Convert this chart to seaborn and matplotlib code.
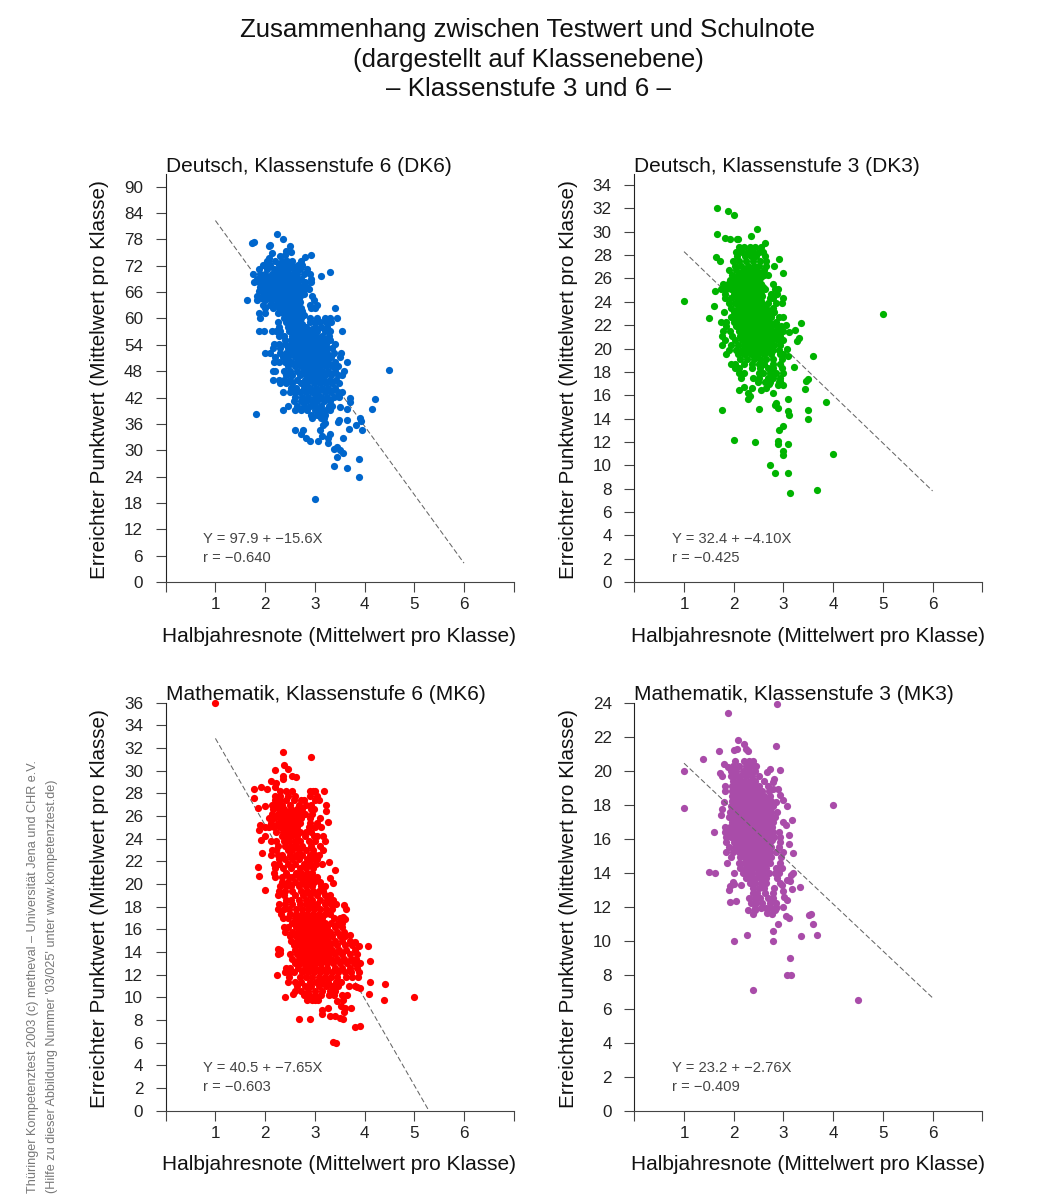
import matplotlib
matplotlib.use('Agg')
import matplotlib.pyplot as plt
import pandas as pd
import seaborn as sns

# Figure size in pixels
W, H = 1041, 1196

title_lines = ['Zusammenhang zwischen Testwert und Schulnote',
               '(dargestellt auf Klassenebene)',
               '\u2013 Klassenstufe 3 und 6 \u2013']
credit_lines = ['Th\u00fcringer Kompetenztest 2003 (c) metheval \u2013 Universit\u00e4t Jena und CHR e.V.',
                "(Hilfe zu dieser Abbildung Nummer '03/025' unter www.kompetenztest.de)"]
x_label = 'Halbjahresnote (Mittelwert pro Klasse)'
y_label = 'Erreichter Punktwert (Mittelwert pro Klasse)'

x_ticks = [0, 1, 2, 3, 4, 5, 6, 7]
x_tick_labels = ['', '1', '2', '3', '4', '5', '6', '']

# Deutsch 6: single points, then rows of (punktwert, [noten])
dk6_single = [(4.5, 48.3), (4.22, 41.7), (4.14, 39.3), (3.71, 42.0), (3.71, 40.9), (3.65, 39.5), (3.5, 39.8),
              (3.64, 36.9), (3.48, 37.0), (3.46, 36.5), (3.9, 37.3), (3.92, 36.7), (3.82, 35.8), (3.94, 34.5),
              (3.69, 34.8), (3.56, 32.7), (3.3, 33.7), (3.15, 33.3), (3.26, 32.7), (3.27, 31.7), (3.06, 32.1),
              (2.91, 32.1), (2.83, 32.9), (2.73, 33.7), (2.76, 34.5), (2.6, 34.7), (3.11, 34.6), (3.16, 35.8),
              (3.21, 36.1), (3.39, 30.2), (3.45, 30.7), (3.51, 30.0), (3.56, 29.3), (3.45, 28.4), (3.88, 28.1),
              (3.38, 26.3), (3.64, 26.0), (3.89, 23.8), (3.0, 19.0), (1.82, 38.2), (1.64, 64.1), (1.73, 77.2),
              (1.78, 77.4), (2.23, 79.2), (2.35, 78.2), (2.09, 76.8), (2.07, 76.4), (2.5, 76.5), (2.52, 75.2),
              (2.42, 75.4), (2.14, 75.0), (2.8, 74.0), (2.92, 74.5), (2.3, 74.3), (2.39, 74.5), (2.07, 73.7),
              (2.03, 73.2), (3.3, 70.5), (3.12, 69.7)]
dk6_rows = [(73.2, [2.05, 2.2, 2.33, 2.43, 2.55, 2.72]), (72.1, [1.95, 2.1, 2.28, 2.38, 2.47, 2.55, 2.66, 2.74]),
            (71.3, [1.87, 2.03, 2.17, 2.27, 2.37, 2.47, 2.58, 2.7, 2.85]),
            (70.2, [1.76, 1.9, 2.0, 2.13, 2.24, 2.34, 2.44, 2.55, 2.65, 2.78, 2.9]),
            (69.1, [1.83, 1.95, 2.07, 2.18, 2.3, 2.41, 2.5, 2.62, 2.73, 2.92]),
            (68.2, [1.78, 1.88, 2.0, 2.12, 2.23, 2.33, 2.45, 2.55, 2.66, 2.8, 2.93]),
            (67.1, [1.9, 2.02, 2.15, 2.26, 2.37, 2.48, 2.6, 2.72, 2.84]),
            (66.2, [1.88, 1.98, 2.1, 2.2, 2.32, 2.43, 2.53, 2.65, 2.76]),
            (65.1, [1.83, 1.95, 2.05, 2.17, 2.28, 2.38, 2.5, 2.6, 2.7, 2.95]),
            (64.2, [1.83, 2.0, 2.12, 2.24, 2.35, 2.46, 2.57, 2.68, 2.98]),
            (63.1, [1.95, 2.1, 2.2, 2.3, 2.42, 2.52, 2.63, 2.9, 3.05]),
            (62.3, [2.0, 2.16, 2.28, 2.38, 2.5, 2.6, 2.72, 2.92, 3.0, 3.4]),
            (61.2, [1.88, 2.0, 2.25, 2.35, 2.47, 2.57, 2.68]),
            (60.1, [1.9, 2.37, 2.5, 2.6, 2.72, 2.9, 3.05, 3.2, 3.3, 3.45]),
            (59.2, [2.25, 2.42, 2.53, 2.65, 2.9, 3.0, 3.1, 3.22, 3.32]),
            (58.1, [2.28, 2.45, 2.58, 2.7, 2.82, 3.0, 3.12, 3.25]),
            (57.2, [1.88, 1.97, 2.13, 2.22, 2.3, 2.48, 2.62, 2.75, 2.87, 3.05, 3.2, 3.3, 3.55]),
            (56.1, [2.27, 2.38, 2.55, 2.66, 2.78, 2.9, 3.02, 3.15, 3.28]),
            (55.2, [2.4, 2.52, 2.63, 2.74, 2.85, 2.96, 3.07, 3.2, 3.3]),
            (54.1, [2.18, 2.27, 2.4, 2.53, 2.65, 2.76, 2.87, 2.98, 3.1, 3.22, 3.4]),
            (53.2, [2.15, 2.3, 2.45, 2.56, 2.68, 2.8, 2.9, 3.02, 3.14, 3.25, 3.35]),
            (52.1, [2.0, 2.1, 2.3, 2.42, 2.53, 2.65, 2.76, 2.88, 3.0, 3.12, 3.25, 3.38, 3.53]),
            (51.2, [2.2, 2.35, 2.47, 2.6, 2.72, 2.84, 2.96, 3.08, 3.2, 3.32, 3.5]),
            (50.1, [2.17, 2.28, 2.4, 2.52, 2.65, 2.77, 2.9, 3.02, 3.14, 3.27, 3.4, 3.65]),
            (49.2, [2.45, 2.6, 2.72, 2.85, 2.97, 3.1, 3.22, 3.35, 3.47]),
            (48.1, [2.15, 2.2, 2.38, 2.5, 2.65, 2.78, 2.9, 3.02, 3.15, 3.27, 3.4, 3.58]),
            (47.2, [2.42, 2.55, 2.7, 2.83, 2.96, 3.08, 3.2, 3.33, 3.47, 3.55]),
            (46.1, [2.15, 2.28, 2.38, 2.5, 2.65, 2.8, 2.92, 3.05, 3.18, 3.3, 3.42]),
            (45.2, [2.3, 2.42, 2.55, 2.72, 2.85, 2.98, 3.1, 3.22, 3.35, 3.48]),
            (44.1, [2.52, 2.62, 2.78, 2.9, 3.02, 3.15, 3.27, 3.4]),
            (43.2, [2.35, 2.5, 2.6, 2.7, 2.82, 2.95, 3.07, 3.2, 3.32, 3.47, 3.55]),
            (42.1, [2.6, 2.75, 2.87, 3.0, 3.12, 3.25, 3.38, 3.48]),
            (41.2, [2.58, 2.72, 2.82, 2.94, 3.05, 3.18, 3.3]),
            (40.1, [2.45, 2.65, 2.78, 2.9, 3.0, 3.12, 3.28, 3.35]),
            (39.2, [2.35, 2.6, 2.72, 2.85, 3.0, 3.1, 3.22, 3.3]),
            (38.1, [2.92, 3.05, 3.15, 3.2]), (37.3, [2.95, 3.12, 3.18])]
dk6_dense = [(69.6, [2.0, 2.12, 2.25, 2.37, 2.49, 2.6]), (68.7, [1.93, 2.06, 2.18, 2.28, 2.4, 2.52, 2.62]),
             (67.6, [1.97, 2.09, 2.2, 2.32, 2.43, 2.54, 2.66, 2.78]),
             (66.7, [1.93, 2.05, 2.16, 2.27, 2.38, 2.49, 2.6, 2.72, 2.88]),
             (65.6, [2.1, 2.22, 2.33, 2.45, 2.55, 2.66, 2.78]), (64.7, [1.92, 2.07, 2.18, 2.3, 2.42, 2.52, 2.62]),
             (63.7, [2.25, 2.36, 2.47, 2.58, 2.7]), (62.7, [2.34, 2.45, 2.55, 2.67]),
             (61.7, [2.42, 2.53, 2.63, 2.75]), (60.7, [2.44, 2.55, 2.66, 2.78]),
             (59.7, [2.47, 2.58, 2.7]), (58.7, [2.5, 2.62, 2.75]),
             (57.7, [2.55, 2.68, 2.8, 2.95]), (56.7, [2.6, 2.72, 2.84, 2.96]),
             (55.7, [2.58, 2.7, 2.8, 2.9, 3.02, 3.13]), (54.7, [2.59, 2.7, 2.81, 2.92, 3.03, 3.15]),
             (53.7, [2.62, 2.73, 2.84, 2.95, 3.07, 3.18]), (52.7, [2.6, 2.7, 2.82, 2.93, 3.05, 3.17]),
             (51.7, [2.64, 2.75, 2.87, 2.98, 3.1, 3.22]), (50.7, [2.68, 2.8, 2.92, 3.03, 3.16]),
             (49.7, [2.65, 2.78, 2.9, 3.02, 3.16]), (48.7, [2.8, 2.92, 3.05]),
             (47.7, [2.75, 2.88, 3.0]), (46.7, [2.86, 3.0, 3.12])]

# Deutsch 3
dk3_single = [(1.0, 24.1), (5.0, 23.0), (1.5, 22.6), (1.61, 23.6), (1.62, 24.9), (1.67, 32.05), (1.88, 31.75),
              (2.0, 31.4), (1.67, 29.8), (1.82, 29.45), (1.93, 29.4), (2.06, 29.35), (2.09, 29.4), (2.35, 29.6),
              (2.46, 30.2), (2.62, 29.05), (1.65, 27.85), (1.72, 27.5), (2.92, 27.65), (2.82, 27.05), (3.0, 26.45),
              (3.36, 22.2), (3.23, 21.6), (3.06, 22.05), (3.11, 21.45), (3.32, 20.9), (3.27, 20.65), (3.07, 20.0),
              (3.1, 19.4), (3.59, 19.4), (3.22, 18.4), (3.5, 17.4), (3.45, 17.25), (3.43, 16.5), (3.09, 15.65),
              (3.86, 15.45), (3.5, 14.7), (3.5, 14.0), (3.1, 14.65), (3.11, 14.3), (2.5, 14.8), (1.77, 14.7),
              (2.83, 15.2), (2.86, 15.3), (2.9, 14.9), (3.0, 13.4), (2.92, 13.05), (2.0, 12.2), (2.43, 11.95),
              (2.9, 12.1), (2.89, 11.85), (3.09, 11.8), (3.0, 11.2), (3.0, 10.85), (4.0, 11.0), (2.73, 10.05),
              (2.84, 9.33), (3.09, 9.3), (3.14, 7.6), (3.67, 7.85), (2.1, 16.45), (2.2, 16.7), (2.36, 16.6),
              (2.54, 16.45), (2.28, 16.15), (2.33, 15.9), (2.28, 15.7), (2.8, 16.2), (2.9, 16.85), (3.0, 16.9),
              (2.93, 17.25), (2.64, 16.65), (2.71, 17.0)]
dk3_rows = [(28.7, [2.1, 2.2, 2.32, 2.42, 2.55]), (28.3, [2.05, 2.17, 2.28, 2.38, 2.5, 2.58]),
            (27.9, [2.07, 2.22, 2.35, 2.45, 2.63]), (27.5, [1.98, 2.1, 2.25, 2.38, 2.52, 2.65]),
            (27.1, [2.02, 2.15, 2.28, 2.4, 2.5, 2.64]), (26.7, [1.9, 2.05, 2.2, 2.33, 2.45, 2.6]),
            (26.3, [1.97, 2.1, 2.22, 2.35, 2.47, 2.6, 2.68]), (25.9, [1.92, 2.02, 2.13, 2.26, 2.38, 2.5]),
            (25.5, [1.78, 1.88, 2.0, 2.1, 2.2, 2.3, 2.42, 2.55, 2.8]),
            (25.1, [1.75, 1.85, 1.95, 2.06, 2.17, 2.28, 2.4, 2.52, 2.62, 2.83, 2.9]),
            (24.7, [1.82, 2.0, 2.1, 2.2, 2.32, 2.43, 2.55, 2.75, 2.88]),
            (24.3, [1.82, 1.95, 2.07, 2.18, 2.28, 2.4, 2.5, 2.72, 2.8, 3.0]),
            (23.9, [1.9, 2.02, 2.13, 2.25, 2.36, 2.47, 2.68, 2.85, 2.97]),
            (23.5, [1.95, 2.08, 2.2, 2.3, 2.42, 2.55, 2.65, 2.78]),
            (23.1, [1.8, 2.0, 2.12, 2.22, 2.33, 2.45, 2.58, 2.7, 2.82]),
            (22.7, [1.95, 2.07, 2.18, 2.3, 2.4, 2.52, 2.65, 2.75, 2.92, 3.0]),
            (22.3, [1.75, 1.85, 2.0, 2.12, 2.23, 2.35, 2.47, 2.58, 2.7, 2.85]),
            (21.9, [1.85, 2.05, 2.17, 2.28, 2.4, 2.52, 2.63, 2.75, 2.88, 2.95]),
            (21.5, [1.78, 1.92, 2.1, 2.2, 2.33, 2.45, 2.56, 2.68, 2.8, 2.9, 3.0]),
            (21.1, [1.77, 1.97, 2.13, 2.25, 2.37, 2.48, 2.6, 2.72, 2.83, 2.93]),
            (20.7, [1.83, 2.02, 2.17, 2.28, 2.4, 2.52, 2.65, 2.77, 2.9, 3.0]),
            (20.3, [1.77, 1.95, 2.08, 2.2, 2.33, 2.45, 2.57, 2.7, 2.82, 2.94]),
            (19.9, [1.9, 2.05, 2.17, 2.3, 2.42, 2.55, 2.68, 2.8, 2.92]),
            (19.5, [1.85, 2.08, 2.2, 2.34, 2.46, 2.6, 2.75, 2.93, 3.0]),
            (19.1, [2.12, 2.27, 2.4, 2.53, 2.65, 2.78, 2.97]),
            (18.7, [1.95, 2.03, 2.2, 2.36, 2.5, 2.6, 2.78, 2.93]),
            (18.3, [2.02, 2.1, 2.36, 2.53, 2.68, 2.8, 2.98]), (17.9, [2.1, 2.2, 2.5, 2.58, 2.72, 2.85, 3.0]),
            (17.5, [2.14, 2.38, 2.5, 2.68, 2.8, 2.94]), (17.1, [2.48, 2.62, 2.72, 2.92])]
dk3_dense = [(26.5, [2.12, 2.27, 2.4, 2.52]), (26.1, [2.05, 2.17, 2.3, 2.43, 2.55]),
             (25.7, [1.95, 2.07, 2.16, 2.27, 2.36, 2.48]), (25.3, [2.02, 2.12, 2.23, 2.34, 2.46, 2.58]),
             (24.9, [2.05, 2.15, 2.26, 2.37, 2.48]), (24.5, [2.05, 2.15, 2.24, 2.35, 2.46, 2.57]),
             (24.1, [2.08, 2.2, 2.31, 2.42, 2.54]), (23.7, [2.12, 2.25, 2.36, 2.48, 2.6]),
             (23.3, [2.15, 2.27, 2.38, 2.5, 2.62]), (22.9, [2.17, 2.28, 2.39, 2.51, 2.63, 2.75]),
             (22.5, [2.13, 2.25, 2.36, 2.46, 2.56, 2.68]), (22.1, [2.22, 2.33, 2.45, 2.55, 2.66, 2.78]),
             (21.7, [2.25, 2.37, 2.48, 2.6, 2.7]), (21.3, [2.18, 2.3, 2.42, 2.52, 2.64, 2.76]),
             (20.9, [2.22, 2.33, 2.45, 2.57, 2.7]), (20.5, [2.25, 2.37, 2.48, 2.6, 2.73]),
             (20.1, [2.22, 2.36, 2.48, 2.62]), (19.7, [2.27, 2.4, 2.52, 2.65])]

# Mathematik 6
mk6_single = [(1.0, 36.0), (2.35, 31.65), (2.93, 31.2), (2.38, 30.5), (2.47, 30.15), (2.19, 30.05), (2.36, 29.5),
              (2.36, 29.25), (2.54, 29.5), (2.62, 29.45), (2.11, 29.05), (2.21, 28.9), (2.2, 28.6), (1.78, 28.4),
              (1.92, 28.55), (2.04, 28.4), (3.18, 28.25), (1.77, 27.55), (1.85, 26.7), (2.0, 26.9), (3.23, 27.0),
              (3.22, 26.45), (3.27, 25.45), (1.9, 25.25), (1.88, 24.75), (2.0, 25.05), (2.0, 24.25), (1.92, 23.85),
              (1.93, 22.7), (1.86, 21.5), (1.88, 20.75), (2.0, 19.5), (3.29, 21.95), (3.41, 21.2), (3.31, 20.5),
              (3.36, 20.1), (2.24, 11.95), (2.4, 10.05), (2.56, 10.3), (2.69, 8.1), (2.91, 8.1), (3.36, 6.1),
              (3.43, 6.0), (3.8, 7.4), (3.9, 7.45), (5.0, 10.0), (4.41, 11.2), (4.4, 9.8), (4.09, 10.3), (4.11, 11.4),
              (4.11, 13.25), (4.06, 14.55), (3.89, 14.5), (3.81, 14.9), (3.71, 15.5), (3.61, 15.45), (3.59, 18.15),
              (3.62, 17.8), (3.56, 17.1), (3.6, 16.9), (3.91, 10.8), (3.85, 10.95), (3.72, 9.05), (3.61, 9.1),
              (3.58, 8.75), (3.5, 8.15), (3.56, 8.1), (3.41, 8.35), (3.31, 8.35), (3.15, 8.9), (3.15, 8.55),
              (3.27, 9.05), (3.44, 9.7), (3.56, 9.75), (3.52, 9.25), (2.25, 14.3), (2.3, 13.9)]
mk6_rows = [(28.2, [2.3, 2.42, 2.55, 2.9, 2.97, 3.0]), (27.8, [2.2, 2.3, 2.47, 2.6, 2.9, 3.05]),
            (27.4, [2.2, 2.3, 2.42, 2.58, 2.72, 2.78, 3.0, 3.08]), (27.0, [2.13, 2.23, 2.33, 2.5, 2.68, 2.82, 2.92]),
            (26.6, [2.15, 2.27, 2.38, 2.52, 2.64, 2.75, 2.93, 2.98]),
            (26.2, [2.13, 2.25, 2.35, 2.47, 2.58, 2.68, 2.8, 2.95]),
            (25.8, [2.08, 2.17, 2.3, 2.42, 2.52, 2.62, 2.73, 2.9, 3.1]),
            (25.4, [2.12, 2.25, 2.37, 2.48, 2.58, 2.7, 2.9, 3.05]),
            (25.0, [2.08, 2.17, 2.3, 2.42, 2.52, 2.65, 2.88, 3.0, 3.12]),
            (24.6, [2.22, 2.35, 2.47, 2.58, 2.7, 2.82, 2.93]),
            (24.2, [2.33, 2.42, 2.53, 2.65, 2.8, 2.98, 3.05, 3.17]),
            (23.8, [2.12, 2.22, 2.37, 2.48, 2.6, 2.7, 2.88, 3.0, 3.2]),
            (23.4, [2.25, 2.4, 2.52, 2.62, 2.75, 2.92, 3.1]),
            (23.0, [2.13, 2.22, 2.45, 2.55, 2.68, 2.83, 2.97, 3.17]),
            (22.6, [2.12, 2.25, 2.33, 2.5, 2.62, 2.75, 2.9, 3.0, 3.08]),
            (22.2, [2.27, 2.4, 2.55, 2.68, 2.85, 2.95, 3.05]),
            (21.8, [2.17, 2.28, 2.47, 2.6, 2.78, 2.9, 3.02, 3.15]), (21.4, [2.2, 2.35, 2.52, 2.7, 2.82, 2.97]),
            (21.0, [2.18, 2.42, 2.62, 2.73, 2.85, 2.95]), (20.6, [2.2, 2.33, 2.48, 2.55, 2.68, 2.8, 2.92, 3.05]),
            (20.2, [2.33, 2.47, 2.6, 2.75, 2.87, 2.98, 3.1]),
            (19.8, [2.3, 2.42, 2.53, 2.68, 2.82, 2.94, 3.12, 3.2]),
            (19.4, [2.28, 2.4, 2.55, 2.72, 2.85, 2.97, 3.08, 3.17]),
            (19.0, [2.25, 2.37, 2.6, 2.77, 2.9, 3.05, 3.2, 3.3]),
            (18.6, [2.42, 2.52, 2.68, 2.82, 2.95, 3.1, 3.25, 3.37]),
            (18.2, [2.27, 2.4, 2.55, 2.7, 2.82, 2.93, 3.05, 3.2, 3.32, 3.42]),
            (17.8, [2.25, 2.38, 2.48, 2.62, 2.75, 2.87, 2.98, 3.1, 3.22, 3.35]),
            (17.4, [2.32, 2.5, 2.62, 2.75, 2.85, 2.97, 3.08, 3.2, 3.3]),
            (17.0, [2.35, 2.47, 2.6, 2.72, 2.82, 2.92, 3.03, 3.15, 3.38, 3.5]),
            (16.6, [2.55, 2.67, 2.78, 2.88, 2.98, 3.08, 3.2, 3.33, 3.47, 3.55]),
            (16.2, [2.37, 2.47, 2.62, 2.72, 2.82, 2.92, 3.02, 3.12, 3.25, 3.4, 3.55]),
            (15.8, [2.4, 2.55, 2.67, 2.77, 2.87, 2.97, 3.07, 3.17, 3.3, 3.45, 3.58]),
            (15.4, [2.5, 2.62, 2.72, 2.82, 2.92, 3.02, 3.12, 3.22, 3.35, 3.5]),
            (15.0, [2.52, 2.65, 2.75, 2.85, 2.95, 3.05, 3.15, 3.27, 3.4, 3.55, 3.7]),
            (14.6, [2.58, 2.68, 2.78, 2.88, 2.98, 3.08, 3.18, 3.3, 3.45, 3.6, 3.75]),
            (14.2, [2.3, 2.6, 2.72, 2.82, 2.92, 3.02, 3.12, 3.22, 3.35, 3.48, 3.62, 3.8]),
            (13.8, [2.25, 2.5, 2.65, 2.75, 2.85, 2.95, 3.05, 3.15, 3.27, 3.4, 3.55, 3.7, 3.85]),
            (13.4, [2.55, 2.68, 2.78, 2.88, 2.98, 3.08, 3.2, 3.32, 3.45, 3.58, 3.72, 3.83]),
            (13.0, [2.6, 2.72, 2.83, 2.93, 3.03, 3.13, 3.25, 3.37, 3.5, 3.65, 3.78, 3.9]),
            (12.6, [2.42, 2.5, 2.67, 2.8, 2.9, 3.0, 3.12, 3.25, 3.4, 3.55, 3.7, 3.85]),
            (12.2, [2.4, 2.5, 2.58, 2.75, 2.87, 2.98, 3.1, 3.22, 3.35, 3.47, 3.6, 3.72, 3.88]),
            (11.8, [2.48, 2.7, 2.83, 2.95, 3.08, 3.2, 3.33, 3.45, 3.62, 3.75, 3.87]),
            (11.4, [2.45, 2.6, 2.72, 2.9, 3.02, 3.15, 3.27, 3.42, 3.52]),
            (11.0, [2.65, 2.8, 2.92, 3.08, 3.22, 3.35, 3.47, 3.68, 3.8]),
            (10.6, [2.6, 2.72, 2.87, 3.0, 3.15, 3.3, 3.4]),
            (10.2, [2.78, 2.88, 3.0, 3.12, 3.28, 3.38, 3.55, 3.65]), (9.8, [2.85, 2.95, 3.0, 3.07])]
mk6_dense = [(26.4, [2.4, 2.5, 2.6]), (25.6, [2.35, 2.47, 2.58]), (25.2, [2.3, 2.43, 2.55]), (24.4, [2.42, 2.52, 2.62]),
             (17.2, [2.78, 2.88, 3.0, 3.1]), (16.8, [2.73, 2.83, 2.93, 3.03, 3.13]),
             (16.4, [2.76, 2.86, 2.96, 3.06, 3.17]), (16.0, [2.72, 2.82, 2.92, 3.02, 3.12, 3.22]),
             (15.6, [2.67, 2.77, 2.87, 2.97, 3.07, 3.17, 3.28]), (15.2, [2.7, 2.8, 2.9, 3.0, 3.1, 3.2]),
             (14.8, [2.73, 2.83, 2.93, 3.03, 3.13, 3.24]), (14.4, [2.76, 2.86, 2.96, 3.06, 3.17, 3.28]),
             (14.0, [2.8, 2.9, 3.0, 3.1, 3.2, 3.32]), (13.6, [2.83, 2.93, 3.03, 3.13, 3.25]),
             (13.2, [2.87, 2.97, 3.07, 3.18])]

# Mathematik 3
mk3_single = [(1.0, 20.0), (1.0, 17.8), (1.39, 20.7), (1.88, 23.4), (2.88, 23.9), (1.71, 21.15), (2.08, 21.8),
              (2.21, 21.6), (2.86, 21.45), (2.0, 21.2), (2.07, 21.25), (2.24, 21.25), (2.29, 21.15), (1.8, 20.4),
              (1.89, 20.2), (2.94, 20.05), (2.72, 20.1), (2.66, 19.9), (1.72, 19.85), (1.76, 19.7), (2.82, 19.5),
              (2.78, 19.35), (2.9, 18.95), (2.8, 18.95), (2.94, 18.6), (3.0, 18.25), (3.07, 17.9), (4.0, 18.0),
              (2.85, 18.15), (1.8, 18.15), (1.76, 17.75), (1.74, 17.4), (3.18, 17.1), (3.0, 17.0), (3.05, 16.8),
              (1.6, 16.4), (3.11, 16.2), (3.11, 15.7), (3.19, 15.15), (2.94, 16.1), (1.86, 14.55), (1.5, 14.05),
              (1.63, 14.0), (2.0, 14.0), (3.19, 14.0), (3.15, 13.85), (3.07, 13.55), (3.13, 13.5), (3.33, 13.15),
              (3.18, 13.05), (2.98, 13.25), (3.0, 12.9), (3.01, 12.55), (3.08, 12.4), (3.0, 12.0), (1.92, 12.3),
              (2.05, 12.35), (1.92, 13.2), (1.91, 13.0), (1.99, 13.45), (2.01, 13.35), (2.15, 13.3), (2.28, 11.8),
              (2.38, 11.55), (2.43, 11.8), (3.06, 11.45), (3.11, 11.35), (3.51, 11.5), (3.56, 11.55), (3.6, 11.0),
              (3.67, 10.35), (3.35, 10.3), (2.89, 11.0), (2.79, 10.55), (2.8, 10.0), (2.27, 10.35), (2.0, 10.0),
              (3.13, 9.0), (3.07, 8.0), (3.15, 8.0), (2.38, 7.1), (4.49, 6.5), (2.66, 11.65), (2.76, 11.55),
              (2.83, 11.8), (2.86, 12.0)]
mk3_rows = [(20.6, [2.02, 2.2, 2.3, 2.38]), (20.3, [1.98, 2.1, 2.25, 2.35, 2.45]),
            (20.0, [1.95, 2.05, 2.18, 2.3, 2.42]), (19.7, [1.95, 2.03, 2.13, 2.25, 2.37, 2.5]),
            (19.4, [1.98, 2.1, 2.2, 2.32, 2.42, 2.6]), (19.1, [1.83, 1.97, 2.08, 2.18, 2.3, 2.4, 2.5, 2.68]),
            (18.8, [1.83, 1.97, 2.05, 2.15, 2.27, 2.37, 2.47, 2.57, 2.7]),
            (18.5, [1.97, 2.07, 2.17, 2.27, 2.37, 2.47, 2.6, 2.72]),
            (18.2, [1.97, 2.05, 2.15, 2.25, 2.35, 2.45, 2.55, 2.65, 2.75]),
            (17.9, [1.95, 2.05, 2.15, 2.25, 2.35, 2.45, 2.55, 2.68, 2.8]),
            (17.6, [1.92, 2.03, 2.13, 2.23, 2.33, 2.43, 2.53, 2.63, 2.75, 2.87]),
            (17.3, [1.9, 2.0, 2.1, 2.2, 2.3, 2.4, 2.5, 2.6, 2.72, 2.83]),
            (17.0, [1.97, 2.08, 2.18, 2.28, 2.38, 2.48, 2.58, 2.7, 2.8]),
            (16.7, [1.83, 1.93, 2.03, 2.15, 2.25, 2.35, 2.45, 2.55, 2.67, 2.77]),
            (16.4, [1.83, 1.93, 2.05, 2.15, 2.25, 2.35, 2.45, 2.55, 2.65, 2.78, 2.92]),
            (16.1, [1.85, 1.95, 2.07, 2.17, 2.27, 2.37, 2.47, 2.57, 2.7, 2.82]),
            (15.8, [1.85, 2.0, 2.1, 2.2, 2.3, 2.4, 2.5, 2.6, 2.72, 2.93]),
            (15.5, [1.9, 2.03, 2.13, 2.23, 2.33, 2.43, 2.53, 2.65, 2.75, 2.92]),
            (15.2, [1.85, 1.98, 2.1, 2.2, 2.3, 2.4, 2.5, 2.6, 2.72, 2.85, 3.0]),
            (14.9, [1.95, 2.13, 2.23, 2.33, 2.43, 2.53, 2.63, 2.75, 2.95]),
            (14.6, [2.1, 2.2, 2.3, 2.4, 2.5, 2.6, 2.72, 2.93]),
            (14.3, [2.12, 2.25, 2.35, 2.45, 2.55, 2.65, 2.85, 2.98]),
            (14.0, [2.18, 2.27, 2.37, 2.48, 2.58, 2.7, 2.83, 2.92]),
            (13.7, [2.25, 2.35, 2.45, 2.55, 2.65, 2.87]), (13.4, [2.33, 2.43, 2.55, 2.65, 2.93]),
            (13.1, [2.38, 2.5, 2.6, 2.82]), (12.8, [2.38, 2.47, 2.63, 2.8]), (12.5, [2.3, 2.42, 2.53, 2.68, 2.8]),
            (12.2, [2.35, 2.45, 2.57, 2.72, 2.85]), (11.9, [2.42, 2.55, 2.65, 2.75, 2.85])]
mk3_dense = [(19.25, [2.03, 2.15, 2.27, 2.37]), (18.95, [2.05, 2.15, 2.25, 2.35, 2.45]),
             (18.65, [2.02, 2.12, 2.22, 2.32, 2.42, 2.52]), (18.35, [2.02, 2.12, 2.22, 2.32, 2.42, 2.52, 2.62]),
             (18.05, [2.0, 2.1, 2.2, 2.3, 2.4, 2.5, 2.6]), (17.75, [1.98, 2.08, 2.18, 2.28, 2.38, 2.48, 2.58, 2.7]),
             (17.45, [1.95, 2.05, 2.15, 2.25, 2.35, 2.45, 2.55, 2.67]),
             (17.15, [2.03, 2.13, 2.23, 2.33, 2.43, 2.53, 2.63, 2.75]),
             (16.85, [1.98, 2.1, 2.2, 2.3, 2.4, 2.5, 2.6, 2.72]),
             (16.55, [2.0, 2.1, 2.2, 2.3, 2.4, 2.5, 2.6, 2.72]),
             (16.25, [2.02, 2.12, 2.22, 2.32, 2.42, 2.52, 2.62, 2.75]),
             (15.95, [2.05, 2.15, 2.25, 2.35, 2.45, 2.55, 2.65, 2.77]),
             (15.65, [2.05, 2.15, 2.25, 2.35, 2.45, 2.55, 2.67]),
             (15.35, [2.08, 2.18, 2.28, 2.38, 2.48, 2.58, 2.7]),
             (15.05, [2.18, 2.28, 2.38, 2.48, 2.58, 2.68]),
             (14.75, [2.25, 2.35, 2.45, 2.55, 2.67]), (14.45, [2.3, 2.4, 2.5, 2.6])]

dk6_ticks = list(range(0, 91, 6))
dk3_ticks = list(range(0, 35, 2))
mk6_ticks = list(range(0, 37, 2))
mk3_ticks = list(range(0, 25, 2))

# Regression coefficients as printed in the chart
dk6_fit = (97.9, -15.6)
dk3_fit = (32.4, -4.10)
mk6_fit = (40.5, -7.65)
mk3_fit = (23.2, -2.76)
fit_x = [1, 6]


def to_frame(single, rows):
    pts = list(single)
    for y, xs in rows:
        pts += [(x, y) for x in xs]
    return pd.DataFrame(pts, columns=['note', 'punkte'])


# name, points, fit, ticks, y top, colour, box (left, top px), printed texts, line on top of dots
panels = [
    ('Deutsch, Klassenstufe 6 (DK6)', to_frame(dk6_single, dk6_rows + dk6_dense), dk6_fit, dk6_ticks, 92.9, '#0066cc',
     (165.7, 174), ['Y = 97.9 + \u221215.6X', 'r = \u22120.640'], False),
    ('Deutsch, Klassenstufe 3 (DK3)', to_frame(dk3_single, dk3_rows + dk3_dense), dk3_fit, dk3_ticks, 34.95, '#00b300',
     (634.3, 174), ['Y = 32.4 + \u22124.10X', 'r = \u22120.425'], False),
    ('Mathematik, Klassenstufe 6 (MK6)', to_frame(mk6_single, mk6_rows + mk6_dense), mk6_fit, mk6_ticks, 36, '#ff0000',
     (165.7, 702.7), ['Y = 40.5 + \u22127.65X', 'r = \u22120.603'], False),
    ('Mathematik, Klassenstufe 3 (MK3)', to_frame(mk3_single, mk3_rows + mk3_dense), mk3_fit, mk3_ticks, 24, '#a94ca9',
     (634.3, 702.7), ['Y = 23.2 + \u22122.76X', 'r = \u22120.409'], True),
]

sns.set_style('ticks')
plt.rcParams['font.family'] = ['Liberation Sans', 'DejaVu Sans']

fig = plt.figure(figsize=(W / 100, H / 100), dpi=100)
BOX_W, BOX_H = 348, 408


def place(px, py, text, **kw):
    fig.text(px / W, 1 - py / H, text, **kw)


for i, line in enumerate(title_lines):
    place(528, 30.5 + i * 29.3, line, ha='center', va='center', fontsize=18.6, color='#111111')
for px, line in zip([33, 52], credit_lines):
    place(px, 1193, line, rotation=90, ha='center', va='bottom', fontsize=9.1, color='#777777')

for name, df, fit, ticks, top, color, (left, upper), printed, line_top in panels:
    ax = fig.add_axes([left / W, 1 - (upper + BOX_H) / H, BOX_W / W, BOX_H / H])
    fit_y = [fit[0] + fit[1] * x for x in fit_x]
    sns.lineplot(x=fit_x, y=fit_y, ax=ax, color='#666666', lw=0.75, linestyle=(0, (5, 2.5)),
                 zorder=4 if line_top else 1)
    sns.scatterplot(data=df, x='note', y='punkte', ax=ax, color=color, s=27, linewidth=0, clip_on=False,
                    zorder=3, legend=False)
    ax.set_xlim(0, 7)
    ax.set_ylim(0, top)
    ax.set_xticks(x_ticks)
    ax.set_xticklabels(x_tick_labels)
    ax.set_yticks(ticks)
    ax.set_xlabel('')
    ax.set_ylabel('')
    ax.patch.set_alpha(0)
    sns.despine(ax=ax)
    ax.spines['left'].set_color('#222222')
    ax.spines['bottom'].set_color('#444444')
    ax.spines['left'].set_linewidth(0.8)
    ax.spines['bottom'].set_linewidth(0.8)
    ax.tick_params(axis='x', length=7.2, width=0.8, color='#444444', labelsize=12.3, pad=3.5, labelcolor='#222222')
    ax.tick_params(axis='y', length=7.2, width=0.8, color='#444444', labelsize=12.3, pad=9, labelcolor='#222222')

    place(left, upper - 8, name, ha='left', va='center', fontsize=15.0, color='#111111')
    place(left + 173.5, upper + BOX_H + 54, x_label, ha='center', va='center', fontsize=15.0, color='#111111')
    place(left - 66, upper + 206, y_label, rotation=90, ha='center', va='center', fontsize=14.9, color='#111111')
    place(left + 37.5, upper + BOX_H - 43, printed[0], ha='left', va='center', fontsize=10.6, color='#444444')
    place(left + 37.5, upper + BOX_H - 24, printed[1], ha='left', va='center', fontsize=10.6, color='#444444')

plt.savefig('out.png', dpi=100)
plt.close()
